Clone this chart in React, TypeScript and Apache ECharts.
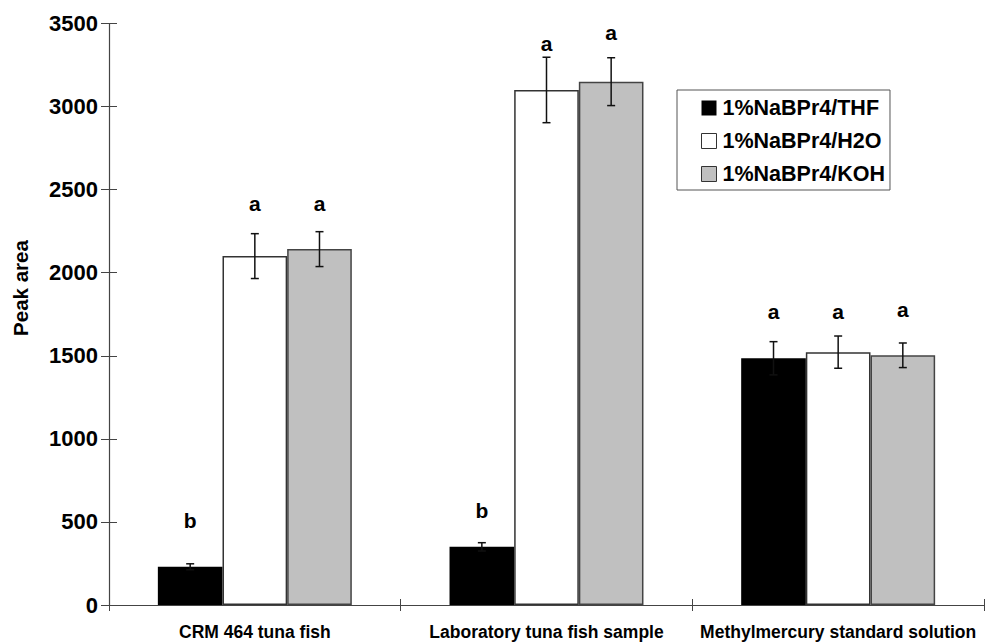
import React, { useEffect, useRef } from "react";
import * as echarts from "echarts";

const categories = ["CRM 464 tuna fish", "Laboratory tuna fish sample", "Methylmercury standard solution"];
const seriesNames = ["1%NaBPr4/THF", "1%NaBPr4/H2O", "1%NaBPr4/KOH"];
const thfValues = [230, 350, 1485];
const h2oValues = [2100, 3100, 1522];
const kohValues = [2142, 3150, 1503];
const thfErrors = [18, 25, 100];
const h2oErrors = [135, 197, 97];
const kohErrors = [105, 144, 74];
const thfLetters = ["b", "b", "a"];
const h2oLetters = ["a", "a", "a"];
const kohLetters = ["a", "a", "a"];
const thfLetterY = [507, 567, 1764];
const h2oLetterY = [2414, 3379, 1764];
const kohLetterY = [2414, 3446, 1780];
const yTicks = [0, 500, 1000, 1500, 2000, 2500, 3000, 3500];

const BAR_GAP_CAT = 0.335;
const LIB = "'Liberation Sans', Arial, Helvetica, sans-serif";

const fills = ["#000000", "#ffffff", "#c0c0c0"];
const borders = ["#000000", "#333333", "#444444"];

function errSeries(k: number, vals: number[], errs: number[], letters: string[], letterY: number[]) {
  return {
    type: "custom",
    z: 10,
    data: vals.map((v, i) => [i, v, errs[i], letterY[i]]),
    encode: { x: 0, y: 1 },
    renderItem: (params: any, api: any) => {
      const ci = api.value(0);
      const v = api.value(1);
      const e = api.value(2);
      const lv = api.value(3);
      const bandW = api.size([1, 0])[0];
      const barW = (bandW * (1 - BAR_GAP_CAT)) / 3;
      const cx = api.coord([ci, 0])[0] + (k - 1) * barW;
      const yTop = api.coord([ci, v + e])[1];
      const yBot = api.coord([ci, v - e])[1];
      const ly = api.coord([ci, lv])[1];
      const st = { stroke: "#111", lineWidth: 1.5 };
      const cap = 4;
      return {
        type: "group",
        children: [
          { type: "line", shape: { x1: cx, y1: yTop, x2: cx, y2: yBot }, style: st },
          { type: "line", shape: { x1: cx - cap, y1: yTop, x2: cx + cap, y2: yTop }, style: st },
          { type: "line", shape: { x1: cx - cap, y1: yBot, x2: cx + cap, y2: yBot }, style: st },
          {
            type: "text",
            x: cx,
            y: ly,
            style: {
              text: letters[params.dataIndex],
              fill: "#000",
              font: "bold 21px " + LIB,
              align: "center",
              verticalAlign: "middle",
            },
          },
        ],
      };
    },
  };
}

export default function App() {
  const ref = useRef<HTMLDivElement>(null);
  useEffect(() => {
    if (!ref.current) return;
    const chart = echarts.init(ref.current, undefined, { renderer: "svg" });
    const barSeries = [thfValues, h2oValues, kohValues].map((vals, k) => ({
      name: seriesNames[k],
      type: "bar",
      data: vals,
      barGap: "0%",
      barCategoryGap: BAR_GAP_CAT * 100 + "%",
      itemStyle: { color: fills[k], borderColor: borders[k], borderWidth: 1.5 },
    }));
    chart.setOption({
      animation: false,
      backgroundColor: "#ffffff",
      grid: { left: 109, right: 5, top: 23.5, bottom: 39, containLabel: false },
      legend: {
        orient: "vertical",
        left: 677,
        top: 90,
        padding: [7, 5, 5, 24],
        itemWidth: 15,
        itemHeight: 15,
        itemGap: 11,
        borderColor: "#555",
        borderWidth: 1,
        backgroundColor: "#fff",
        icon: "rect",
        textStyle: { fontFamily: LIB, fontWeight: "bold", fontSize: 21.5, color: "#000", lineHeight: 22, padding: [0, 0, 0, 1] },
        data: seriesNames.map((n, k) => ({
          name: n,
          itemStyle: { color: fills[k], borderColor: "#333", borderWidth: k === 0 ? 0 : 1 },
        })),
      },
      xAxis: [
        {
          type: "category",
          data: categories,
          axisLine: { lineStyle: { color: "#444", width: 1.2 } },
          axisTick: { show: true, length: 6, interval: 0, lineStyle: { color: "#444" } },
          axisLabel: {
            interval: 0,
            margin: 18,
            fontFamily: LIB,
            fontWeight: "bold",
            fontSize: 17.5,
            color: "#000",
          },
        },
        {
          type: "category",
          data: categories,
          position: "bottom",
          axisLine: { show: false },
          axisTick: { show: true, inside: true, length: 6, interval: 0, lineStyle: { color: "#444" } },
          axisLabel: { show: false },
        },
      ],
      yAxis: [
        {
          type: "value",
          min: yTicks[0],
          max: yTicks[yTicks.length - 1],
          interval: 500,
          axisLine: { show: true, lineStyle: { color: "#444", width: 1.2 } },
          axisTick: { show: true, length: 8, lineStyle: { color: "#444" } },
          splitLine: { show: false },
          axisLabel: {
            margin: 11,
            fontFamily: LIB,
            fontWeight: "bold",
            fontSize: 22,
            color: "#000",
            formatter: (v: number) => String(v),
          },
        },
        {
          type: "value",
          position: "left",
          min: yTicks[0],
          max: yTicks[yTicks.length - 1],
          interval: 500,
          axisLine: { show: false },
          axisTick: { show: true, inside: true, length: 8, lineStyle: { color: "#444" } },
          splitLine: { show: false },
          axisLabel: { show: false },
        },
      ],
      graphic: [
        {
          type: "text",
          x: 20,
          y: 288,
          rotation: Math.PI / 2,
          style: {
            text: "Peak area",
            font: "bold 20.5px " + LIB,
            fill: "#000",
            align: "center",
            verticalAlign: "middle",
          },
        },
      ],
      series: [
        ...barSeries,
        errSeries(0, thfValues, thfErrors, thfLetters, thfLetterY),
        errSeries(1, h2oValues, h2oErrors, h2oLetters, h2oLetterY),
        errSeries(2, kohValues, kohErrors, kohLetters, kohLetterY),
      ],
    });
    return () => chart.dispose();
  }, []);
  return <div ref={ref} style={{ position: "fixed", left: 0, top: 0, width: 989, height: 644 }} />;
}
